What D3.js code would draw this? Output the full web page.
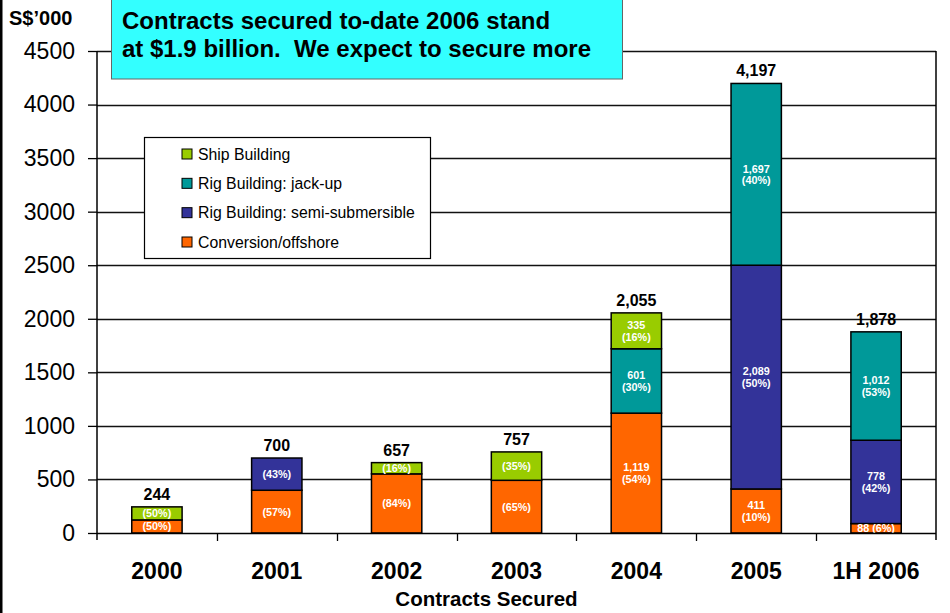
<!DOCTYPE html>
<html>
<head>
<meta charset="utf-8">
<script src="https://cdn.jsdelivr.net/npm/d3@7"></script>
<style>
  html, body { margin: 0; padding: 0; background: #fff; }
  svg { display: block; font-family: "Liberation Sans", Arial, sans-serif; }
</style>
</head>
<body>
<svg id="chart" width="950" height="613"></svg>
<script>
// Contracts secured per year, S$'000, split by business segment
const categories = ["2000", "2001", "2002", "2003", "2004", "2005", "1H 2006"];
const seriesNames = ["Conversion/offshore", "Rig Building: semi-submersible", "Rig Building: jack-up", "Ship Building"];
const conversion = [122, 399, 552, 492, 1119, 411, 88];
const semiSub    = [0, 301, 0, 0, 0, 2089, 778];
const jackUp     = [0, 0, 0, 0, 601, 1697, 1012];
const shipBuild  = [122, 0, 105, 265, 335, 0, 0];
const totals     = [244, 700, 657, 757, 2055, 4197, 1878];

// segment labels (value line, percent line)
const convLabels = [["(50%)"], ["(57%)"], ["(84%)"], ["(65%)"], ["1,119", "(54%)"], ["411", "(10%)"], ["88 (6%)"]];
const semiLabels = [null, ["(43%)"], null, null, null, ["2,089", "(50%)"], ["778", "(42%)"]];
const jackLabels = [null, null, null, null, ["601", "(30%)"], ["1,697", "(40%)"], ["1,012", "(53%)"]];
const shipLabels = [["(50%)"], null, ["(16%)"], ["(35%)"], ["335", "(16%)"], null, null];
const totalLabels = ["244", "700", "657", "757", "2,055", "4,197", "1,878"];

const yTicks = [0, 500, 1000, 1500, 2000, 2500, 3000, 3500, 4000, 4500];
const colors = ["#FF6600", "#333399", "#009999", "#99CC00"];

const svg = d3.select("#chart");
const plot = { left: 97, right: 936, top: 51, bottom: 533 };

const x = d3.scaleBand().domain(categories).range([plot.left, plot.right])
  .paddingInner(0.58).paddingOuter(0.29);
const y = d3.scaleLinear().domain([0, 4500]).range([plot.bottom, plot.top]);
const color = d3.scaleOrdinal().domain(seriesNames).range(colors);

// left frame edge
svg.append("rect").attr("x", 0).attr("y", 0).attr("width", 2.5).attr("height", 613).attr("fill", "#000");

// horizontal gridlines
svg.append("g").selectAll("line").data(yTicks.filter(d => d > 0)).join("line")
  .attr("x1", plot.left).attr("x2", plot.right)
  .attr("y1", d => Math.round(y(d)) + 0.5).attr("y2", d => Math.round(y(d)) + 0.5)
  .attr("stroke", "#111").attr("stroke-width", 1.3);

// y axis
const yAxis = svg.append("g").attr("transform", `translate(${plot.left},0)`)
  .call(d3.axisLeft(y).tickValues(yTicks).tickSize(9).tickPadding(13).tickFormat(d3.format("d")));
yAxis.select(".domain").attr("d", `M0,${plot.top}V${plot.bottom + 7}`).attr("stroke", "#000").attr("stroke-width", 1.5);
yAxis.selectAll(".tick line").attr("stroke", "#000").attr("stroke-width", 1.3);
yAxis.selectAll(".tick text").attr("font-size", 23).attr("fill", "#000")
  .attr("font-family", "'Liberation Sans', Arial, sans-serif");

// right plot border
svg.append("line").attr("x1", plot.right).attr("x2", plot.right)
  .attr("y1", plot.top).attr("y2", plot.bottom + 7).attr("stroke", "#000").attr("stroke-width", 1.5);

// stacked data
const rows = categories.map((c, i) => ({
  cat: c,
  "Conversion/offshore": conversion[i],
  "Rig Building: semi-submersible": semiSub[i],
  "Rig Building: jack-up": jackUp[i],
  "Ship Building": shipBuild[i]
}));
const stack = d3.stack().keys(seriesNames)(rows);
const labelSets = [convLabels, semiLabels, jackLabels, shipLabels];

const layers = svg.append("g").selectAll("g").data(stack).join("g")
  .attr("fill", d => color(d.key));
layers.selectAll("rect").data(d => d.filter(s => s[1] - s[0] > 0)).join("rect")
  .attr("x", d => x(d.data.cat))
  .attr("width", x.bandwidth())
  .attr("y", d => y(d[1]))
  .attr("height", d => y(d[0]) - y(d[1]))
  .attr("stroke", "#000").attr("stroke-width", 1.5);

// segment labels
stack.forEach((layer, li) => {
  layer.forEach((seg, ci) => {
    const lab = labelSets[li][ci];
    if (!lab || seg[1] - seg[0] <= 0) return;
    const cx = x(seg.data.cat) + x.bandwidth() / 2;
    const cy = (y(seg[0]) + y(seg[1])) / 2;
    const lh = 11.5;
    const t = svg.append("text").attr("text-anchor", "middle")
      .attr("font-size", 10.8).attr("font-weight", "bold").attr("fill", "#fff");
    lab.forEach((s, k) => {
      t.append("tspan").attr("x", cx)
        .attr("y", cy + (k - (lab.length - 1) / 2) * lh + 4)
        .text(s);
    });
  });
});

// x axis with ticks at category boundaries
svg.append("line").attr("x1", plot.left).attr("x2", plot.right)
  .attr("y1", plot.bottom + 0.5).attr("y2", plot.bottom + 0.5).attr("stroke", "#000").attr("stroke-width", 1.5);
const bounds = categories.map(c => x(c) - (x.step() - x.bandwidth()) / 2);
svg.append("g").selectAll("line").data(bounds.slice(1)).join("line")
  .attr("x1", d => Math.round(d) + 0.5).attr("x2", d => Math.round(d) + 0.5)
  .attr("y1", plot.bottom).attr("y2", plot.bottom + 8).attr("stroke", "#000").attr("stroke-width", 1.3);

svg.append("g").selectAll("text").data(categories).join("text")
  .attr("x", d => x(d) + x.bandwidth() / 2).attr("y", 579)
  .attr("text-anchor", "middle").attr("font-size", 23).attr("font-weight", "bold").attr("fill", "#000")
  .text(d => d);

svg.append("text").attr("x", (plot.left + plot.right) / 2 - 30).attr("y", 606)
  .attr("text-anchor", "middle").attr("font-size", 20.5).attr("font-weight", "bold").text("Contracts Secured");

// totals above bars
svg.append("g").selectAll("text").data(categories).join("text")
  .attr("x", d => x(d) + x.bandwidth() / 2)
  .attr("y", (d, i) => y(totals[i]) - 7)
  .attr("text-anchor", "middle").attr("font-size", 16).attr("font-weight", "bold").attr("fill", "#000")
  .text((d, i) => totalLabels[i]);

// unit label
svg.append("text").attr("x", 9).attr("y", 25).attr("font-size", 20).attr("font-weight", "bold").text("S$\u2019000");

// headline box
svg.append("rect").attr("x", 111.5).attr("y", -2).attr("width", 511).attr("height", 81)
  .attr("fill", "#33FFFF").attr("stroke", "#666").attr("stroke-width", 1);
const head = svg.append("text").attr("font-size", 24).attr("font-weight", "bold").attr("fill", "#000");
head.append("tspan").attr("x", 122).attr("y", 29).text("Contracts secured to-date 2006 stand");
head.append("tspan").attr("x", 122).attr("y", 57).text("at $1.9 billion.  We expect to secure more").attr("xml:space", "preserve");

// legend
const legend = svg.append("g");
legend.append("rect").attr("x", 144.5).attr("y", 137.5).attr("width", 286).attr("height", 121)
  .attr("fill", "#fff").attr("stroke", "#000").attr("stroke-width", 1.2);
const legendOrder = ["Ship Building", "Rig Building: jack-up", "Rig Building: semi-submersible", "Conversion/offshore"];
const legendY = d3.scalePoint().domain(legendOrder).range([154, 242]);
const items = legend.selectAll("g.item").data(legendOrder).join("g").attr("class", "item")
  .attr("transform", d => `translate(0,${legendY(d)})`);
items.append("rect").attr("x", 182).attr("y", -5).attr("width", 10).attr("height", 10)
  .attr("fill", d => color(d)).attr("stroke", "#000").attr("stroke-width", 1);
items.append("text").attr("x", 198).attr("y", 5.5).attr("font-size", 15.8).attr("fill", "#000").text(d => d);
</script>
</body>
</html>
